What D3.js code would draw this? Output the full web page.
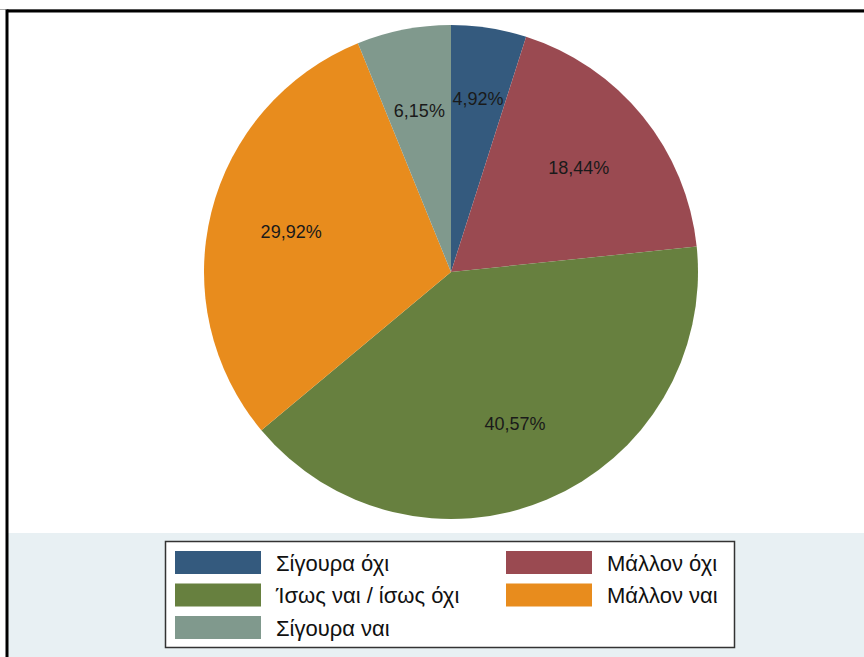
<!DOCTYPE html>
<html>
<head>
<meta charset="utf-8">
<script src="https://cdn.jsdelivr.net/npm/d3@7"></script>
<style>
  body { margin: 0; background: #fff; }
  svg { display: block; font-family: "Liberation Sans", Arial, sans-serif; }
</style>
</head>
<body>
<script>
// chart data
var categories = ["Σίγουρα όχι", "Μάλλον όχι", "Ίσως ναι / ίσως όχι", "Μάλλον ναι", "Σίγουρα ναι"];
var values = [4.92, 18.44, 40.57, 29.92, 6.15];
var colors = ["#345a7e", "#9a4a51", "#67803f", "#e88c1d", "#80998d"];

var width = 864, height = 657;
var cx = 451, cy = 272, radius = 247;

var svg = d3.select("body").append("svg")
  .attr("width", width)
  .attr("height", height);

// background + frame
svg.append("rect").attr("x", 0).attr("y", 0).attr("width", width).attr("height", height).attr("fill", "#fff");
svg.append("rect").attr("x", 8).attr("y", 533).attr("width", width - 8).attr("height", height - 533).attr("fill", "#e8f0f3");
svg.append("line").attr("x1", 0).attr("x2", width).attr("y1", 9.5).attr("y2", 9.5).attr("stroke", "#aaa").attr("stroke-width", 1);
svg.append("line").attr("x1", 7).attr("x2", width).attr("y1", 11).attr("y2", 11).attr("stroke", "#000").attr("stroke-width", 3);
svg.append("line").attr("x1", 7).attr("x2", 7).attr("y1", 9.5).attr("y2", height).attr("stroke", "#000").attr("stroke-width", 3);

// pie
var pie = d3.pie().sort(null).value(function (d) { return d; });
var arc = d3.arc().innerRadius(0).outerRadius(radius);

var g = svg.append("g").attr("transform", "translate(" + cx + "," + cy + ")");
var arcs = pie(values);

g.selectAll("path")
  .data(arcs)
  .enter()
  .append("path")
  .attr("d", arc)
  .attr("fill", function (d, i) { return colors[i]; });

// labels sit at 2/3 of the radius; the first small slice gets pushed out a bit
// so it doesn't crowd the neighbouring small slice label
var labelPos = function (d, i) {
  var r = radius * (i === 0 ? 0.71 : 0.667);
  var a = (d.startAngle + d.endAngle) / 2;
  return [Math.sin(a) * r, -Math.cos(a) * r];
};

g.selectAll("text")
  .data(arcs)
  .enter()
  .append("text")
  .attr("transform", function (d, i) { return "translate(" + labelPos(d, i) + ")"; })
  .attr("text-anchor", "middle")
  .attr("dy", "0.35em")
  .attr("font-size", 18)
  .attr("fill", "#1a1a1a")
  .text(function (d) { return d.value.toFixed(2).replace(".", ",") + "%"; });

// legend
var legend = svg.append("g");
legend.append("rect")
  .attr("x", 165.5).attr("y", 541.5)
  .attr("width", 569).attr("height", 106)
  .attr("fill", "#fff")
  .attr("stroke", "#333")
  .attr("stroke-width", 1.5);

var item = legend.selectAll("g.item")
  .data(categories)
  .enter()
  .append("g")
  .attr("class", "item")
  .attr("transform", function (d, i) {
    var col = i % 2, row = Math.floor(i / 2);
    return "translate(" + (col === 0 ? 175 : 506) + "," + (551 + row * 32.5) + ")";
  });

item.append("rect")
  .attr("width", 86).attr("height", 23)
  .attr("fill", function (d, i) { return colors[i]; });

item.append("text")
  .attr("x", 101)
  .attr("y", 12)
  .attr("dy", "0.35em")
  .attr("font-size", 22)
  .attr("fill", "#111")
  .text(function (d) { return d; });
</script>
</body>
</html>
